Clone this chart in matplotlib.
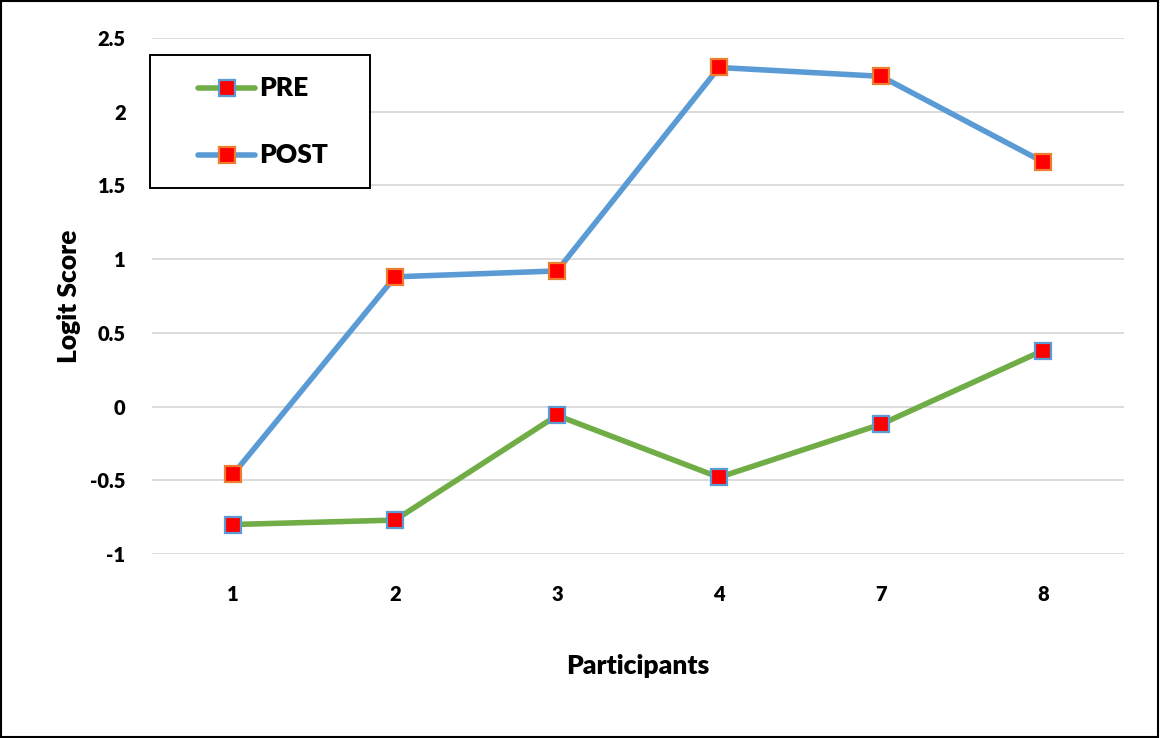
import matplotlib.pyplot as plt
from matplotlib.patches import Rectangle
from matplotlib.lines import Line2D

# Datos de las puntuaciones logit por participante
participantes = ['1', '2', '3', '4', '7', '8']
pre = [-0.80, -0.77, -0.06, -0.48, -0.12, 0.38]
post = [-0.46, 0.88, 0.92, 2.30, 2.24, 1.66]

VERDE = '#70AD47'
AZUL = '#5B9BD5'
NARANJA = '#ED7D31'
ROJO = '#FF0000'

plt.rcParams['font.family'] = ['Lato', 'DejaVu Sans']
plt.rcParams['font.weight'] = 'heavy'

W, H = 1160, 738
fig = plt.figure(figsize=(W / 100, H / 100), dpi=100)
ax = fig.add_axes([152 / W, 1 - 554 / H, 972 / W, 516 / H])

x = range(len(participantes))
estilo = dict(lw=4, marker='s', ms=11.5, mfc=ROJO, mew=1.6, zorder=3)
ax.plot(x, pre, color=VERDE, mec=AZUL, **estilo)
ax.plot(x, post, color=AZUL, mec=NARANJA, **estilo)

ax.set_xlim(-0.5, len(participantes) - 0.5)
ax.set_ylim(-1, 2.5)
ax.set_xticks(list(x))
ax.set_xticklabels(participantes)
ax.set_yticks([-1, -0.5, 0, 0.5, 1, 1.5, 2, 2.5])
ax.set_yticklabels(['-1', '-0.5', '0', '0.5', '1', '1.5', '2', '2.5'])
ax.tick_params(length=0, labelsize=14.5, pad=22)
ax.tick_params(axis='y', pad=19)
ax.grid(axis='y', color='#D9D9D9', lw=1.3)
ax.set_axisbelow(True)
for s in ax.spines.values():
    s.set_visible(False)

ax.set_xlabel('Participants', fontsize=19, fontweight='heavy', labelpad=36)
ax.set_ylabel('Logit Score', fontsize=19, fontweight='heavy', labelpad=7)

# Leyenda dibujada a mano: recuadro, muestras y textos
fig.add_artist(Rectangle((150 / W, 1 - 188 / H), 220 / W, 133 / H,
                         transform=fig.transFigure, facecolor='white',
                         edgecolor='black', lw=1.4, zorder=5))
for nombre, color, borde, yp in [('PRE', VERDE, AZUL, 88), ('POST', AZUL, NARANJA, 155)]:
    yf = 1 - yp / H
    fig.add_artist(Line2D([198 / W, 226.5 / W, 255 / W], [yf] * 3, transform=fig.transFigure,
                          color=color, lw=4, solid_capstyle='round', zorder=6))
    fig.add_artist(Line2D([226.5 / W], [yf], transform=fig.transFigure, ls='none',
                          marker='s', ms=11.5, mfc=ROJO, mec=borde, mew=1.6, zorder=7))
    fig.text(259 / W, yf, nombre, fontsize=19, fontweight='heavy', va='center', ha='left', zorder=7)

# Marco exterior
fig.add_artist(Rectangle((0.001, 0.001), 0.997, 0.997, transform=fig.transFigure,
                         fill=False, edgecolor='black', lw=1.5))

plt.savefig('out.png', dpi=100)
plt.close()
